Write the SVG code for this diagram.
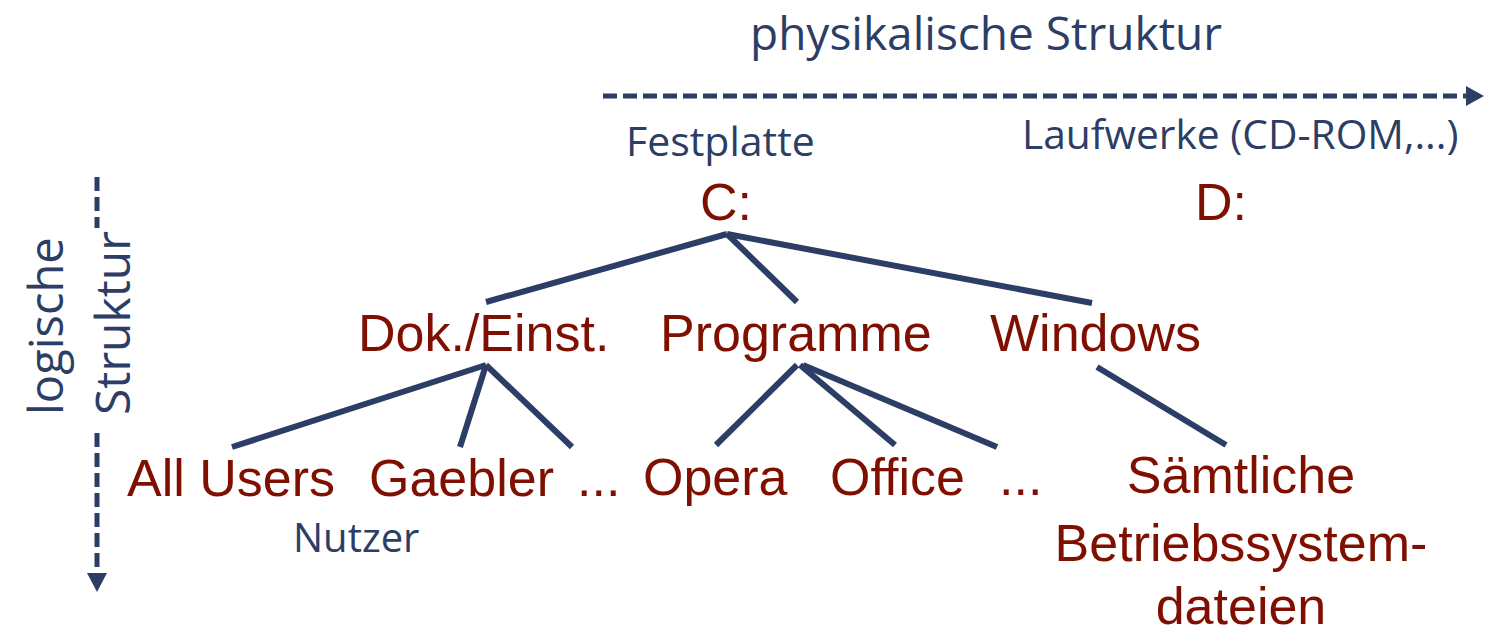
<svg xmlns="http://www.w3.org/2000/svg" width="1510" height="636" viewBox="0 0 1510 636">
<style>
.r{fill:#7f0f00;font-family:"Liberation Sans",Arial,sans-serif;font-size:52px}
.b{fill:#2c3d66;font-family:"Open Sans",sans-serif}
.e{stroke:#2c3d66;stroke-width:6;fill:none;stroke-linecap:butt}
.d{stroke:#2c3d66;stroke-width:5;fill:none;stroke-dasharray:14 6}
.h{fill:#2c3d66}
</style>
<rect width="1510" height="636" fill="#fff"/>
<g id="axes">
<text class="b" x="750" y="50" font-size="46">physikalische Struktur</text>
<line class="d" x1="603" y1="96" x2="1466" y2="96"/>
<polygon class="h" points="1466,86 1466,106 1484,96"/>
<text class="b" transform="translate(63,415) rotate(-90)" font-size="47">logische</text>
<text class="b" transform="translate(130,415) rotate(-90)" font-size="48">Struktur</text>
<line class="d" x1="97" y1="177" x2="97" y2="228"/>
<line class="d" x1="97" y1="433" x2="97" y2="574"/>
<polygon class="h" points="87,573 107,573 97,592"/>
</g>
<g id="labels">
<text class="b" x="626" y="156" font-size="41">Festplatte</text>
<text class="b" x="1022" y="149" font-size="40.7">Laufwerke (CD-ROM,...)</text>
<text class="b" x="293" y="552" font-size="40">Nutzer</text>
</g>
<g id="connectors">
<line class="e" x1="727" y1="234" x2="486" y2="302"/>
<line class="e" x1="727" y1="234" x2="797" y2="302"/>
<line class="e" x1="727" y1="234" x2="1092" y2="303"/>
<line class="e" x1="486" y1="365" x2="232" y2="447"/>
<line class="e" x1="486" y1="365" x2="460" y2="447"/>
<line class="e" x1="486" y1="365" x2="572" y2="447"/>
<line class="e" x1="797" y1="365" x2="716" y2="445"/>
<line class="e" x1="800" y1="365" x2="895" y2="445"/>
<line class="e" x1="803" y1="365" x2="997" y2="447"/>
<line class="e" x1="1097" y1="367" x2="1226" y2="445"/>
</g>
<g id="node-c"><text class="r" x="700" y="220">C:</text></g>
<g id="node-d"><text class="r" x="1195" y="220">D:</text></g>
<g id="node-dok"><text class="r" x="358" y="351">Dok./Einst.</text></g>
<g id="node-programme"><text class="r" x="660" y="351">Programme</text></g>
<g id="node-windows"><text class="r" x="990" y="351">Windows</text></g>
<g id="node-allusers"><text class="r" x="127" y="496">All Users</text></g>
<g id="node-gaebler"><text class="r" x="369" y="496">Gaebler</text></g>
<g id="node-dots1"><text class="r" x="577" y="496">...</text></g>
<g id="node-opera"><text class="r" x="643" y="495">Opera</text></g>
<g id="node-office"><text class="r" x="830" y="495">Office</text></g>
<g id="node-dots2"><text class="r" x="999" y="495">...</text></g>
<g id="node-system"><text class="r" text-anchor="middle"><tspan x="1241" y="493">Sämtliche</tspan><tspan x="1241" y="561">Betriebssystem-</tspan><tspan x="1241" y="624">dateien</tspan></text></g>
</svg>
